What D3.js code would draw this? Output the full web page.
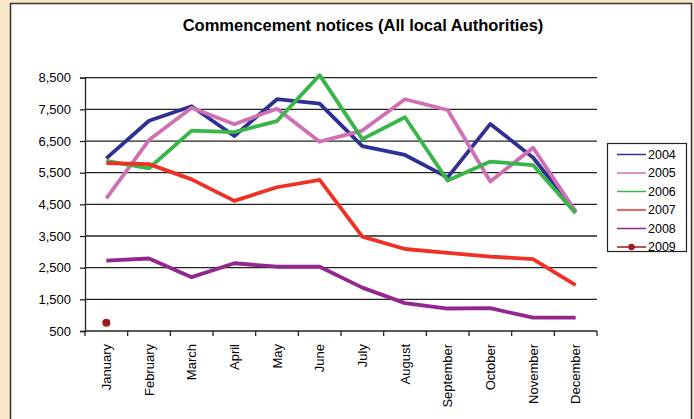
<!DOCTYPE html>
<html>
<head>
<meta charset="utf-8">
<script src="https://cdn.jsdelivr.net/npm/d3@7"></script>
<style>
  body { margin: 0; background: #fae6c8; }
  svg { display: block; font-family: "Liberation Sans", Arial, sans-serif; }
</style>
</head>
<body>
<svg id="chart" width="694" height="419"></svg>
<script>
(function() {
  'use strict';

  var months = ['January', 'February', 'March', 'April', 'May', 'June',
    'July', 'August', 'September', 'October', 'November', 'December'];

  var years = ['2004', '2005', '2006', '2007', '2008', '2009'];

  var s2004 = [5950, 7140, 7600, 6660, 7820, 7680, 6340, 6060, 5350, 7040, 5980, 4270];
  var s2005 = [4690, 6530, 7550, 7030, 7520, 6480, 6830, 7820, 7480, 5220, 6290, 4270];
  var s2006 = [5870, 5640, 6830, 6780, 7130, 8580, 6560, 7250, 5250, 5850, 5740, 4220];
  var s2007 = [5800, 5770, 5290, 4610, 5040, 5270, 3480, 3090, 2970, 2850, 2770, 1950];
  var s2008 = [2720, 2790, 2200, 2640, 2530, 2530, 1870, 1380, 1210, 1220, 920, 920];
  var s2009 = [760];

  var yTicks = [500, 1500, 2500, 3500, 4500, 5500, 6500, 7500, 8500];

  var colors = ['#2e3192', '#d070b4', '#3ab54a', '#ee3124', '#92278f', '#9b1b1e'];
  var series = [s2004, s2005, s2006, s2007, s2008, s2009];

  var svg = d3.select('#chart');

  // white chart panel with dark border
  svg.append('rect')
    .attr('x', 10.5).attr('y', 3.5)
    .attr('width', 681).attr('height', 430)
    .attr('fill', '#fff')
    .attr('stroke', '#333')
    .attr('stroke-width', 1.5);

  svg.append('text')
    .attr('x', 363).attr('y', 31)
    .attr('text-anchor', 'middle')
    .attr('font-size', 16.5)
    .attr('font-weight', 'bold')
    .text('Commencement notices (All local Authorities)');

  var x = d3.scaleBand().domain(months).range([85, 597]);
  var y = d3.scaleLinear().domain([500, 8500]).range([331, 77.7]);

  // gridlines
  svg.append('g')
    .selectAll('line')
    .data(yTicks.slice(1))
    .enter().append('line')
    .attr('x1', 85).attr('x2', 597)
    .attr('y1', function(d) { return y(d); })
    .attr('y2', function(d) { return y(d); })
    .attr('stroke', '#222')
    .attr('stroke-width', 1.3);

  // y axis
  var yAxis = svg.append('g')
    .attr('transform', 'translate(85,0)')
    .call(d3.axisLeft(y).tickValues(yTicks).tickSize(5).tickPadding(9)
      .tickFormat(d3.format(',')));
  yAxis.select('.domain').attr('stroke', '#222').attr('stroke-width', 1.3);
  yAxis.selectAll('.tick line').attr('stroke', '#222').attr('stroke-width', 1.3);
  yAxis.selectAll('text').attr('font-size', 13).attr('fill', '#000')
    .attr('font-family', '"Liberation Sans", Arial, sans-serif');

  // x axis: ticks on band boundaries
  var xg = svg.append('g');
  xg.append('line')
    .attr('x1', 85).attr('x2', 597)
    .attr('y1', 331).attr('y2', 331)
    .attr('stroke', '#222').attr('stroke-width', 1.3);
  xg.selectAll('.xtick')
    .data(months.concat(['end']))
    .enter().append('line')
    .attr('class', 'xtick')
    .attr('x1', function(d, i) { return 85 + i * x.step(); })
    .attr('x2', function(d, i) { return 85 + i * x.step(); })
    .attr('y1', 331).attr('y2', 336)
    .attr('stroke', '#222').attr('stroke-width', 1.3);
  xg.selectAll('.xlabel')
    .data(months)
    .enter().append('text')
    .attr('class', 'xlabel')
    .attr('transform', function(d) {
      return 'translate(' + (x(d) + x.bandwidth() / 2) + ',344) rotate(-90)';
    })
    .attr('dy', '0.35em')
    .attr('text-anchor', 'end')
    .attr('font-size', 13)
    .text(function(d) { return d; });

  // series lines
  var line = d3.line()
    .x(function(d, i) { return x(months[i]) + x.bandwidth() / 2; })
    .y(function(d) { return y(d); });

  series.forEach(function(s, k) {
    if (s.length > 1) {
      svg.append('path')
        .datum(s)
        .attr('d', line)
        .attr('fill', 'none')
        .attr('stroke', colors[k])
        .attr('stroke-width', 3.8)
        .attr('stroke-linejoin', 'round');
    } else {
      svg.append('circle')
        .attr('cx', x(months[0]) + x.bandwidth() / 2)
        .attr('cy', y(s[0]))
        .attr('r', 4)
        .attr('fill', colors[k]);
    }
  });

  // legend
  var lg = svg.append('g');
  lg.append('rect')
    .attr('x', 607.5).attr('y', 143.5)
    .attr('width', 79).attr('height', 108)
    .attr('fill', '#fff')
    .attr('stroke', '#222')
    .attr('stroke-width', 1.2);
  years.forEach(function(yr, i) {
    var ly = 154.5 + i * 18.5;
    lg.append('line')
      .attr('x1', 617).attr('x2', 646)
      .attr('y1', ly).attr('y2', ly)
      .attr('stroke', colors[i])
      .attr('stroke-width', 1.5);
    if (i === 5) {
      lg.append('circle')
        .attr('cx', 631.5).attr('cy', ly).attr('r', 3.2)
        .attr('fill', colors[i]);
    }
    lg.append('text')
      .attr('x', 648).attr('y', ly)
      .attr('dy', '0.35em')
      .attr('font-size', 12.5)
      .text(yr);
  });
})();
</script>
</body>
</html>
